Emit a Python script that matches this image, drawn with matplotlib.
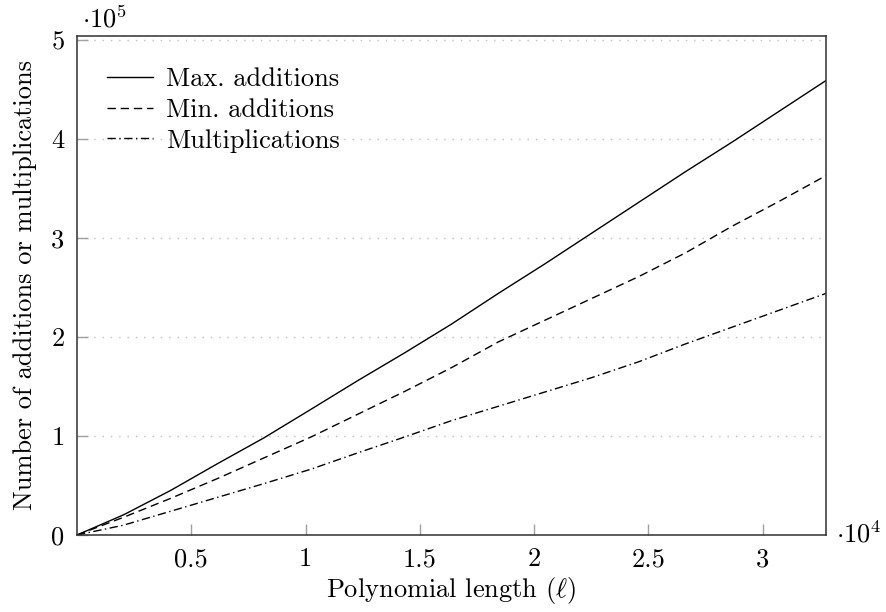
import matplotlib
matplotlib.use('Agg')
import matplotlib.pyplot as plt
from matplotlib.ticker import FuncFormatter

# polynomial length and operation counts
length = [0, 2048, 4096, 6144, 8192, 10240, 12288, 14336, 16384,
          18432, 20480, 22528, 24576, 26624, 28672, 30720, 32768]
max_add = [0, 20500, 45000, 72000, 98300, 127000, 156000, 184000, 213000,
           244000, 274000, 305000, 336000, 367000, 397000, 428000, 459000]
min_add = [0, 18000, 37000, 57000, 78000, 99000, 122000, 145000, 169000,
           195000, 217000, 239000, 261000, 285000, 312000, 337000, 363000]
mults = [0, 10000, 24000, 38000, 52000, 66500, 83000, 99000, 115500,
         130000, 144500, 159000, 175000, 193000, 210000, 227000, 244000]

series_names = ['Max. additions', 'Min. additions', 'Multiplications']
xticks = [5000, 10000, 15000, 20000, 25000, 30000]
yticks = [0, 100000, 200000, 300000, 400000, 500000]

plt.rcParams['font.family'] = 'cmr10'
plt.rcParams['mathtext.fontset'] = 'cm'
plt.rcParams['axes.formatter.use_mathtext'] = True

fig = plt.figure(figsize=(8.87, 6.12), dpi=100)
ax = fig.add_axes([0.0868, 0.1258, 0.8444, 0.8154])

ax.plot(length, max_add, color='black', lw=1.0, label=series_names[0])
ax.plot(length, min_add, color='black', lw=1.0, dashes=(6, 3.5), label=series_names[1])
ax.plot(length, mults, color='black', lw=1.0, dashes=(6, 2.5, 1, 2.5), label=series_names[2])

ax.set_xlim(0, 32768)
ax.set_ylim(0, 504000)
ax.set_xticks(xticks)
ax.set_yticks(yticks)
ax.xaxis.set_major_formatter(FuncFormatter(lambda v, p: ('%g' % (v / 1e4))))
ax.yaxis.set_major_formatter(FuncFormatter(lambda v, p: ('%g' % (v / 1e5))))
ax.tick_params(direction='in', length=8, width=1.0, color='#a0a0a0',
               labelsize=19, pad=9)
ax.grid(axis='y', linestyle=(0, (1, 5)), color='#bdbdbd', lw=1.0)
for s in ax.spines.values():
    s.set_linewidth(1.1)
    s.set_color('#303030')

ax.set_xlabel(r'Polynomial length $(\ell)$', fontsize=19, labelpad=3)
ax.set_ylabel('Number of additions or multiplications', fontsize=19, labelpad=10)

fig.text(0.092, 0.968, r'$\cdot 10^5$', fontsize=19, va='center', ha='left')
fig.text(0.943, 0.128, r'$\cdot 10^4$', fontsize=19, va='center', ha='left')

ax.legend(loc='upper left', frameon=False, fontsize=19, handlelength=1.75,
          handletextpad=0.5, labelspacing=0.27, borderaxespad=0.5,
          bbox_to_anchor=(0.008, 0.985))

fig.savefig('out.png', dpi=100)
